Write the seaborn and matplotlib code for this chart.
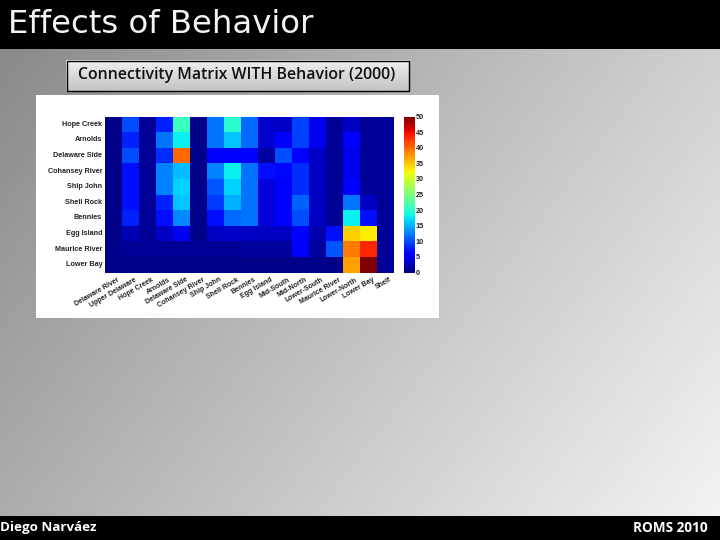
import numpy as np
import pandas as pd
import matplotlib
matplotlib.use("Agg")
import matplotlib.pyplot as plt
from matplotlib.patches import Rectangle
from matplotlib.transforms import ScaledTranslation
import seaborn as sns

sources = ["Hope Creek", "Arnolds", "Delaware Side", "Cohansey River", "Ship John",
           "Shell Rock", "Bennies", "Egg Island", "Maurice River", "Lower Bay"]
sinks = ["Delaware River", "Upper Delaware", "Hope Creek", "Arnolds", "Delaware Side",
         "Cohansey River", "Ship John", "Shell Rock", "Bennies", "Egg Island", "Mid-South",
         "Mid-North", "Lower-South", "Maurice River", "Lower-North", "Lower Bay", "Shelf"]

hope_creek = [0.5, 10, 1, 8, 21, 0.5, 12, 20, 11.5, 3.5, 3, 9.5, 5, 1, 3, 1, 1]
arnolds = [0.5, 8, 1, 12, 18, 0.5, 12, 16, 11.5, 3.5, 6, 9.5, 5, 1, 6, 1, 1]
delaware_side = [0.5, 10, 1, 8.5, 40, 0.5, 6, 6, 6, 1.5, 10, 6, 3, 1, 5, 1, 1]
cohansey = [0.5, 7, 1, 12.5, 15.5, 0.5, 12.5, 18, 12, 7, 6.5, 8.5, 3, 1, 5, 1, 1]
ship_john = [0.5, 7, 1, 12.5, 16.5, 0.5, 10.5, 16.5, 12, 4, 6, 8.5, 3, 1, 6, 1, 1]
shell_rock = [0.5, 7, 1, 8, 16, 0.5, 9, 15, 12, 4, 6, 11, 3, 1, 12, 3, 1]
bennies = [0.5, 8, 1, 7, 13, 0.5, 7, 11.5, 12, 4, 6, 10, 3, 1, 18, 7, 1]
egg_island = [0.5, 2.5, 1, 3, 5, 0.5, 3, 3.5, 3, 3, 3, 6, 2, 7, 34.5, 33, 1]
maurice = [0.5, 1, 1, 1, 1, 1, 1, 1, 1.5, 1.5, 1.5, 5.5, 1.5, 10.5, 39, 43.5, 1]
lower_bay = [0.5, 0.5, 0.5, 0.5, 0.5, 0.5, 0.5, 0.5, 0.5, 0.5, 0.5, 0.5, 0.5, 0.5, 37, 50, 1]

title = "Effects of Behavior"
subtitle = "Connectivity Matrix WITH Behavior (2000)"
author = "Diego Narváez"
meeting = "ROMS 2010"

W, H = 720, 540
matrix = pd.DataFrame([hope_creek, arnolds, delaware_side, cohansey, ship_john,
                       shell_rock, bennies, egg_island, maurice, lower_bay],
                      index=sources, columns=sinks)

fig = plt.figure(figsize=(W / 100, H / 100), dpi=100)

def axbox(x0, y0, x1, y1):
    return [x0 / W, 1 - y1 / H, (x1 - x0) / W, (y1 - y0) / H]

bg = fig.add_axes([0, 0, 1, 1])
gx = np.linspace(0, 1, 180)[None, :]
gy = np.linspace(0, 1, 135)[:, None]
shade = 0x86 + (0xcc - 0x86) * gx + (0xae - 0x86) * gy
bg.imshow(shade, cmap="gray", vmin=0, vmax=255, extent=(0, W, H, 0),
          interpolation="bilinear", aspect="auto")
btn = np.linspace(0xee, 0xc4, 30)[:, None]
bg.imshow(btn, cmap="gray", vmin=0, vmax=255, extent=(66, 409, 91, 60), aspect="auto")
bg.set_xlim(0, W); bg.set_ylim(H, 0); bg.axis("off")
bg.add_patch(Rectangle((0, 0), W, 49, color="black", lw=0))
bg.add_patch(Rectangle((0, 516), W, 24, color="black", lw=0))
bg.add_patch(Rectangle((36, 95), 403, 223, color="white", lw=0))
bg.add_patch(Rectangle((66.5, 60.5), 342, 30, fc="none", ec="black", lw=1))
bg.text(8, 24.5, title, color="#f4f4f4", fontsize=23.3, family="DejaVu Sans", va="center", ha="left")
bg.text(237, 75, subtitle, color="#111111", fontsize=11.4, family="Open Sans", weight="semibold",
        va="center", ha="center")
bg.text(0, 528, author, color="white", fontsize=9.6, family="Open Sans", weight="bold", va="center", ha="left")
bg.text(708, 528, meeting, color="white", fontsize=9.8, family="Open Sans", weight="bold", va="center", ha="right")

ax = fig.add_axes(axbox(105, 116.5, 394, 272.5))
cax = fig.add_axes(axbox(403.5, 116.5, 415, 272.5))
sns.heatmap(matrix, ax=ax, cbar_ax=cax, cmap="jet", vmin=0, vmax=50,
            cbar_kws={"ticks": list(range(0, 51, 5))})

ax.tick_params(length=0, pad=2)
ax.set_yticklabels(sources, rotation=0, fontsize=5.2, family="Liberation Sans", weight="bold", color="#222222")
ax.set_xticklabels(sinks, rotation=30, ha="right", rotation_mode="anchor", fontsize=5,
                   family="Liberation Sans", weight="bold", color="#222222")
shift = ScaledTranslation(4 / 100, -1 / 100, fig.dpi_scale_trans)
for t in ax.get_xticklabels():
    t.set_transform(t.get_transform() + shift)
cax.tick_params(length=0, pad=0.5)
for t in cax.get_yticklabels():
    t.set_fontsize(5.2); t.set_family("Liberation Sans"); t.set_weight("bold"); t.set_color("#222222")

fig.savefig("out.png", dpi=100)
